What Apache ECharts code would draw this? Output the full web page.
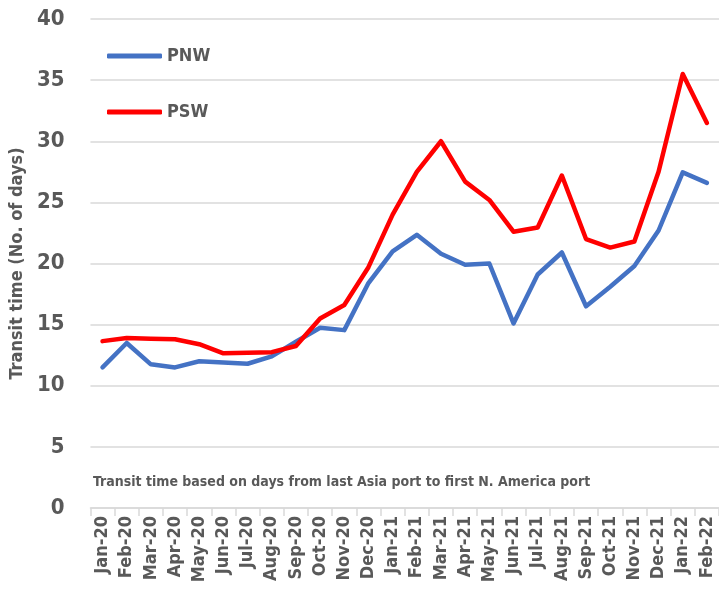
<!DOCTYPE html>
<html>
<head>
<meta charset="utf-8">
<script src="https://cdn.jsdelivr.net/npm/echarts@6/dist/echarts.min.js"></script>
<style>html,body{margin:0;padding:0;background:#fff}#c{width:719px;height:590px}</style>
</head>
<body>
<div id="c"></div>
<script>
const categories = ['Jan-20','Feb-20','Mar-20','Apr-20','May-20','Jun-20','Jul-20','Aug-20','Sep-20','Oct-20','Nov-20','Dec-20',
  'Jan-21','Feb-21','Mar-21','Apr-21','May-21','Jun-21','Jul-21','Aug-21','Sep-21','Oct-21','Nov-21','Dec-21','Jan-22','Feb-22'];
const pnw = [11.5,13.5,11.75,11.5,12.0,11.9,11.8,12.4,13.6,14.75,14.55,18.4,21.0,22.35,20.8,19.9,20.0,15.1,19.1,20.9,16.5,18.1,19.8,22.7,27.45,26.6];
const psw = [13.65,13.9,13.85,13.8,13.4,12.65,12.7,12.75,13.25,15.5,16.6,19.7,24.0,27.5,30.0,26.7,25.2,22.6,22.95,27.2,22.0,21.3,21.8,27.5,35.5,31.5];
const yTicks = {min:0, max:40, interval:5};
const yTitle = 'Transit time (No. of days)';
const note = 'Transit time based on days from last Asia port to first N. America port';

const FONT = "'DejaVu Sans Condensed','Roboto',sans-serif";
const GREY = '#595959';
const chart = echarts.init(document.getElementById('c'), null, {renderer:'canvas'});
chart.setOption({
  animation:false,
  backgroundColor:'#fff',
  textStyle:{fontFamily:FONT},
  title:{text:note, left:88, top:470, textStyle:{fontFamily:FONT, fontSize:14, fontWeight:'bold', color:GREY}},
  legend:[
    {data:['PNW'], left:102, top:42, icon:'roundRect', itemWidth:55, itemHeight:5,
     textStyle:{fontFamily:FONT, fontSize:18, fontWeight:'bold', color:GREY}},
    {data:['PSW'], left:102, top:98, icon:'roundRect', itemWidth:55, itemHeight:5,
     textStyle:{fontFamily:FONT, fontSize:18, fontWeight:'bold', color:GREY}}
  ],
  grid:{left:86, right:0, top:19, bottom:82, containLabel:false},
  xAxis:{type:'category', data:categories, boundaryGap:true,
    axisLine:{lineStyle:{color:'#d9d9d9', width:1.5}},
    axisTick:{show:true, interval:0, length:8, lineStyle:{color:'#d9d9d9', width:1.5}},
    axisLabel:{interval:0, rotate:90, fontFamily:FONT, fontSize:18, fontWeight:'bold', color:GREY, margin:8}},
  yAxis:{type:'value', min:yTicks.min, max:yTicks.max, interval:yTicks.interval,
    name:yTitle, nameLocation:'middle', nameGap:60,
    nameTextStyle:{fontFamily:FONT, fontSize:18, fontWeight:'bold', color:GREY},
    axisLine:{show:false}, axisTick:{show:false},
    axisLabel:{fontFamily:FONT, fontSize:22, fontWeight:'bold', color:GREY, margin:26},
    splitLine:{lineStyle:{color:'#d9d9d9', width:1.5}}},
  series:[
    {name:'PNW', type:'line', data:pnw, showSymbol:false, symbol:'none', color:'#4472C4',
     lineStyle:{width:4.5, color:'#4472C4', cap:'round', join:'round'}},
    {name:'PSW', type:'line', data:psw, showSymbol:false, symbol:'none', color:'#FF0000',
     lineStyle:{width:4.5, color:'#FF0000', cap:'round', join:'round'}}
  ]
});
</script>
</body>
</html>
